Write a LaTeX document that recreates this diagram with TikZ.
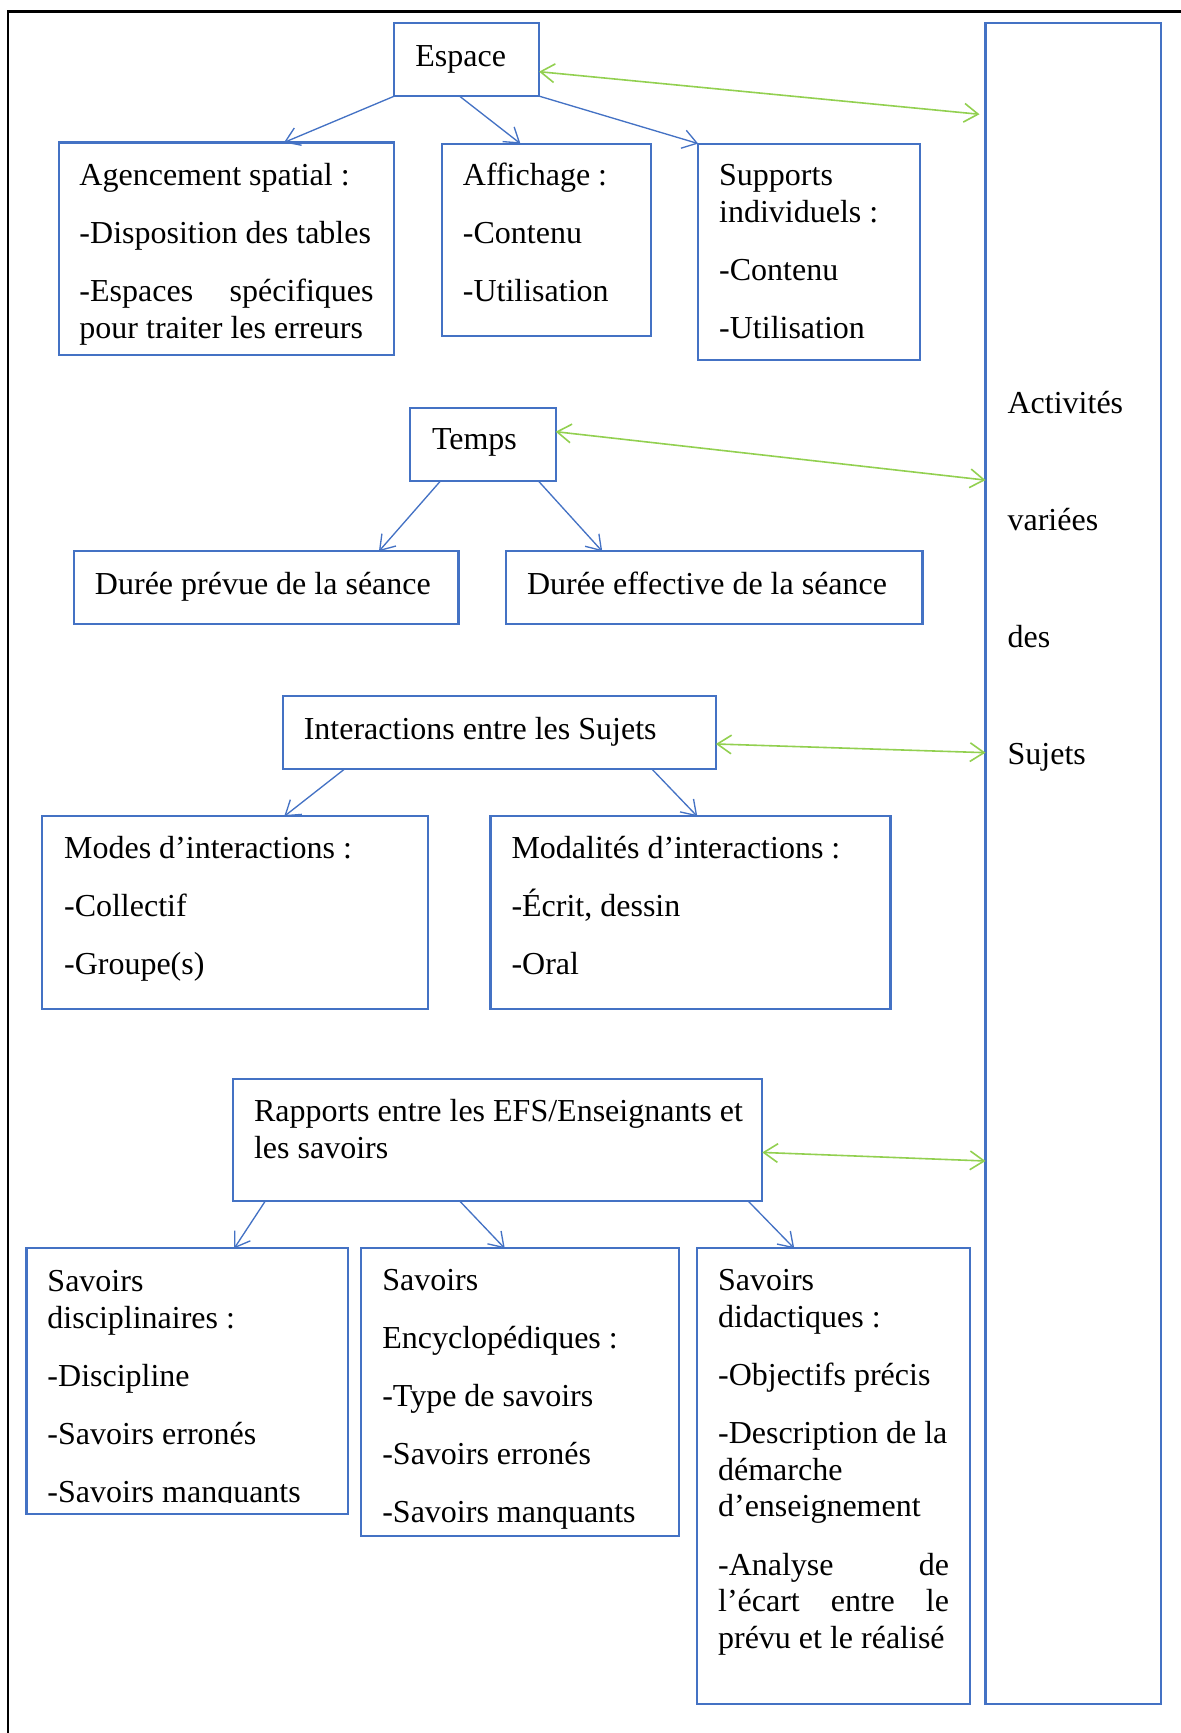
\documentclass[tikz,border=0pt]{standalone}
\usepackage{fontspec}
\setmainfont{Liberation Serif}
\usetikzlibrary{calc,arrows.meta}
\definecolor{bblue}{HTML}{4472C4}
\definecolor{lgreen}{HTML}{92D050}
\begin{document}
\begin{tikzpicture}[x=0.375pt, y=-0.375pt,
  bbox/.style={draw=bblue, line width=0.8pt, inner sep=0pt, outer sep=0pt, anchor=north west, rectangle},
  txt/.style={anchor=base west, inner sep=0pt, outer sep=0pt, font=\fontsize{12}{13.8}\selectfont},
  barrow/.style={draw=bblue, line width=0.5pt, -{Straight Barb[length=5.25pt,width=7pt]}},
  garrow/.style={draw=lgreen, line width=0.6pt, {Straight Barb[length=5.25pt,width=7pt]}-{Straight Barb[length=5.25pt,width=7pt]}},
  frame/.style={draw=black, line width=0.8pt}
]
\useasboundingbox (0,0) rectangle (1181,1733);
% outer frame (top and left edges)
\draw[frame] (8,1733) -- (8,11.5) -- (1181,11.5);

% boxes
\node[bbox, minimum width=54.26pt,  minimum height=27.34pt]  (esp)   at (394.4,23.2) {};
\node[bbox, minimum width=125.93pt, minimum height=79.54pt]  (agen)  at (58.6,142.5) {};
\node[bbox, minimum width=78.3pt,   minimum height=72.11pt]  (aff)   at (441.9,143.6) {};
\node[bbox, minimum width=83.29pt,  minimum height=81.23pt]  (sup)   at (698.2,143.6) {};
\node[bbox, minimum width=65.85pt,  minimum height=630.15pt] (tall)  at (985.5,23.2) {};
\node[bbox, minimum width=54.68pt,  minimum height=27.34pt]  (temps) at (409.9,407.7) {};
\node[bbox, minimum width=144.19pt, minimum height=27.34pt]  (prev)  at (74.0,551.3) {};
\node[bbox, minimum width=156.19pt, minimum height=27.34pt]  (eff)   at (506.0,551.3) {};
\node[bbox, minimum width=162.41pt, minimum height=27.34pt]  (inter) at (282.8,696.0) {};
\node[bbox, minimum width=144.6pt,  minimum height=72.11pt]  (modes) at (42.0,816.4) {};
\node[bbox, minimum width=150.0pt,  minimum height=72.11pt]  (modal) at (490.5,816.4) {};
\node[bbox, minimum width=198.45pt, minimum height=45.56pt]  (rapp)  at (233.1,1079.4) {};
\node[bbox, minimum width=120.56pt, minimum height=99.45pt]  (disc)  at (26.5,1248.4) {};
\node[bbox, minimum width=119.29pt, minimum height=107.74pt] (enc)   at (361.3,1248.4) {};
\node[bbox, minimum width=102.34pt, minimum height=170.7pt]  (did)   at (697.1,1248.4) {};

% texts
\node[txt] (espT) at (415.4,66.1) {Espace};
\node[txt] (agenT) at (79.5,185.5) {\parbox[t]{110.3pt}{Agencement spatial :\\[8pt]-Disposition des tables\\[8pt]-Espaces\hfill spécifiques\\pour traiter les erreurs}};
\node[txt] (affT) at (462.9,185.5) {\parbox[t]{75pt}{Affichage :\\[8pt]-Contenu\\[8pt]-Utilisation}};
\node[txt] (supT) at (719.2,185.5) {\parbox[t]{75pt}{Supports\\individuels :\\[8pt]-Contenu\\[8pt]-Utilisation}};
\node[txt] (tallT) at (1007.6,413.5) {\parbox[t]{55pt}{Activités\\[30.1pt]variées\\[30.1pt]des\\[30.1pt]Sujets}};
\node[txt] (tempsT) at (432.0,449.5) {Temps};
\node[txt] (prevT) at (95.0,594.2) {Durée prévue de la séance};
\node[txt] (effT) at (527.0,594.2) {Durée effective de la séance};
\node[txt] (interT) at (303.8,739.0) {Interactions entre les Sujets};
\node[txt] (modesT) at (64.1,858.3) {\parbox[t]{130pt}{Modes d’interactions :\\[8pt]-Collectif\\[8pt]-Groupe(s)}};
\node[txt] (modalT) at (511.5,858.3) {\parbox[t]{135pt}{Modalités d’interactions :\\[8pt]-Écrit, dessin\\[8pt]-Oral}};
\node[txt] (rappT) at (254.1,1121.2) {\parbox[t]{190pt}{Rapports entre les EFS/Enseignants et\\les savoirs}};
\begin{scope}
\clip (26.5,1248.4) rectangle (348,1502);
\node[txt] (discT) at (47.5,1291.4) {\parbox[t]{110pt}{Savoirs\\disciplinaires :\\[8pt]-Discipline\\[8pt]-Savoirs erronés\\[8pt]-Savoirs manquants}};
\end{scope}
\node[txt] (encT) at (382.3,1290.3) {\parbox[t]{110pt}{Savoirs\\[8pt]Encyclopédiques :\\[8pt]-Type de savoirs\\[8pt]-Savoirs erronés\\[8pt]-Savoirs manquants}};
\node[txt] (didT) at (718.1,1290.3) {\parbox[t]{86.6pt}{Savoirs\\didactiques :\\[8pt]-Objectifs précis\\[8pt]-Description de la\\démarche\\d’enseignement\\[8pt]-Analyse\hfill de\\l’écart\hfill entre\hfill le\\prévu et le réalisé}};

% blue arrows
\draw[barrow] (esp.south west) -- ($(agen.north west)!0.671!(agen.north east)$);
\draw[barrow] ($(esp.south west)!0.45!(esp.south east)$) -- ($(aff.north west)!0.376!(aff.north east)$);
\draw[barrow] (esp.south east) -- (sup.north west);
\draw[barrow] ($(temps.south west)!0.212!(temps.south east)$) -- ($(prev.north west)!0.793!(prev.north east)$);
\draw[barrow] ($(temps.south west)!0.879!(temps.south east)$) -- ($(eff.north west)!0.231!(eff.north east)$);
\draw[barrow] ($(inter.south west)!0.143!(inter.south east)$) -- ($(modes.north west)!0.628!(modes.north east)$);
\draw[barrow] ($(inter.south west)!0.852!(inter.south east)$) -- ($(modal.north west)!0.517!(modal.north east)$);
\draw[barrow] ($(rapp.south west)!0.061!(rapp.south east)$) -- ($(disc.north west)!0.646!(disc.north east)$);
\draw[barrow] ($(rapp.south west)!0.428!(rapp.south east)$) -- ($(enc.north west)!0.451!(enc.north east)$);
\draw[barrow] ($(rapp.south west)!0.973!(rapp.south east)$) -- ($(did.north west)!0.356!(did.north east)$);

% green double arrows
\draw[garrow] ($(esp.north east)!0.665!(esp.south east)$) -- ($(tall.north west)!0.0542!(tall.south west) + (-6,0)$);
\draw[garrow] ($(temps.north east)!0.329!(temps.south east)$) -- ($(tall.north west)!0.2719!(tall.south west)$);
\draw[garrow] ($(inter.north east)!0.658!(inter.south east)$) -- ($(tall.north west)!0.4341!(tall.south west)$);
\draw[garrow] ($(rapp.north east)!0.601!(rapp.south east)$) -- ($(tall.north west)!0.6771!(tall.south west)$);
\end{tikzpicture}
\end{document}
